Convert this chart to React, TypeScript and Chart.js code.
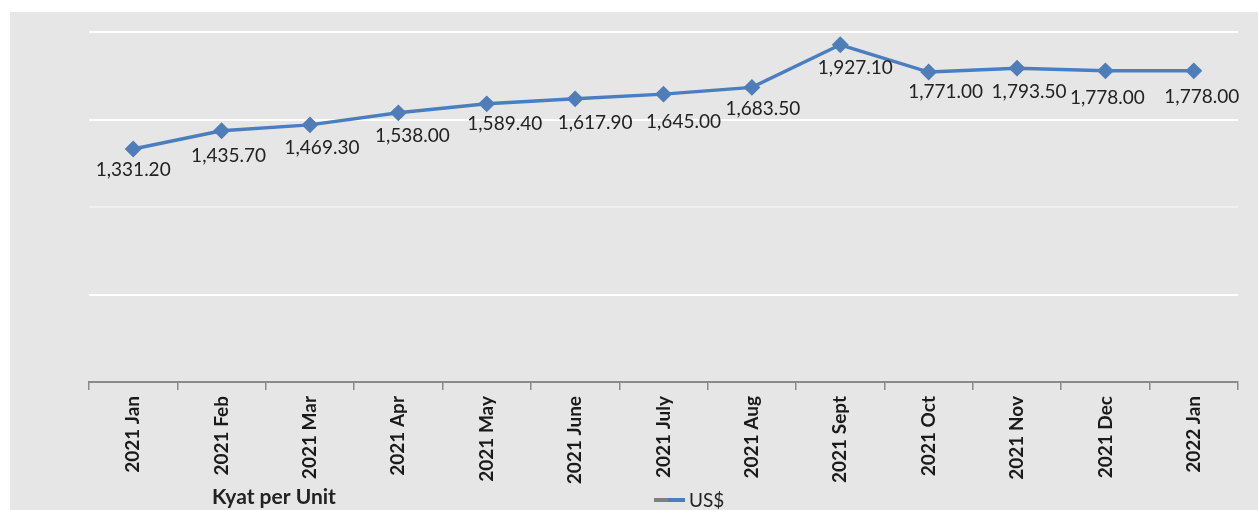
import React, { useEffect, useRef } from "react";
import { Chart, registerables } from "chart.js";

Chart.register(...registerables);

const categories = [
  "2021 Jan", "2021 Feb", "2021 Mar", "2021 Apr", "2021 May", "2021 June",
  "2021 July", "2021 Aug", "2021 Sept", "2021 Oct", "2021 Nov", "2021 Dec", "2022 Jan",
];
const usdValues = [
  1331.2, 1435.7, 1469.3, 1538.0, 1589.4, 1617.9, 1645.0, 1683.5, 1927.1, 1771.0, 1793.5, 1778.0, 1778.0,
];
const seriesName = "US$";
const axisNote = "Kyat per Unit";
const yMin = 0;
const yMax = 2000;
const yStep = 500;

// label offsets (style only)
const labelDx = [0, 7, 12, 14, 18, 20, 20, 11, 15, 17, 12, 2, 8];
const labelDy = [21, 25, 23, 23, 20, 24, 28, 21, 23, 20, 24, 27, 26];

const fmt = (v: number) =>
  v.toLocaleString("en-US", { minimumFractionDigits: 2, maximumFractionDigits: 2 });

const BLUE = "#4a7ebf";

const labelPlugin = {
  id: "valueLabels",
  afterDatasetsDraw(chart: any) {
    const { ctx } = chart;
    const meta = chart.getDatasetMeta(0);
    ctx.save();
    ctx.font = "19px Lato";
    ctx.fillStyle = "#222222";
    ctx.textAlign = "center";
    ctx.textBaseline = "middle";
    meta.data.forEach((pt: any, i: number) => {
      ctx.fillText(fmt(usdValues[i]), pt.x + labelDx[i], pt.y + labelDy[i]);
    });
    ctx.restore();
  },
  afterDraw(chart: any) {
    const { ctx } = chart;
    ctx.save();
    // axis note
    ctx.font = "bold 21px Lato";
    ctx.fillStyle = "#222222";
    ctx.textAlign = "center";
    ctx.textBaseline = "middle";
    ctx.fillText(axisNote, 264, 485);
    // legend
    const ly = 488;
    ctx.lineWidth = 4;
    ctx.strokeStyle = "#808080";
    ctx.beginPath();
    ctx.moveTo(644, ly);
    ctx.lineTo(660, ly);
    ctx.stroke();
    ctx.strokeStyle = BLUE;
    ctx.beginPath();
    ctx.moveTo(658, ly);
    ctx.lineTo(675, ly);
    ctx.stroke();
    ctx.font = "19px Lato";
    ctx.textAlign = "left";
    ctx.fillText(seriesName, 679, ly + 1);
    ctx.restore();
  },
};

export default function App() {
  const ref = useRef<HTMLCanvasElement | null>(null);
  useEffect(() => {
    if (!ref.current) return;
    const chart = new Chart(ref.current, {
      type: "line",
      data: {
        labels: categories,
        datasets: [
          {
            label: seriesName,
            data: usdValues,
            borderColor: BLUE,
            backgroundColor: BLUE,
            borderWidth: 3.5,
            pointStyle: "rectRot",
            pointRadius: 6,
            pointBackgroundColor: "#4f7db8",
            pointBorderColor: "#4f7db8",
            tension: 0,
          },
        ],
      },
      plugins: [labelPlugin],
      options: {
        responsive: false,
        animation: false,
        layout: { padding: { top: 20, right: 20, left: 0, bottom: 0 } },
        plugins: {
          legend: { display: false },
          tooltip: { enabled: false },
          title: { display: false },
        },
        scales: {
          x: {
            offset: true,
            grid: {
              offset: true,
              drawOnChartArea: false,
              drawTicks: true,
              tickLength: 8,
              color: "#8a8a8a",
              lineWidth: 1.5,
            },
            border: { display: true, color: "#8a8a8a", width: 2 },
            ticks: {
              maxRotation: 90,
              minRotation: 90,
              autoSkip: false,
              padding: 6,
              color: "#1a1a1a",
              font: { family: "Lato", size: 19, weight: "bold" },
            },
            afterFit: (s: any) => {
              s.height = 128;
            },
          },
          y: {
            min: yMin,
            max: yMax,
            ticks: { display: false, stepSize: yStep },
            border: { display: false },
            grid: {
              drawTicks: false,
              lineWidth: 2,
              color: (c: any) =>
                c.tick && c.tick.value === 0
                  ? "rgba(0,0,0,0)"
                  : c.tick && c.tick.value === 1000
                  ? "rgba(255,255,255,0.4)"
                  : "#ffffff",
            },
            afterFit: (s: any) => {
              s.width = 79;
            },
          },
        },
      },
    });
    return () => chart.destroy();
  }, []);

  return (
    <div
      style={{
        position: "absolute",
        left: 0,
        top: 0,
        width: 1258,
        height: 510,
        background: "#ffffff",
        overflow: "hidden",
      }}
    >
      <div
        style={{
          position: "absolute",
          left: 10,
          top: 12,
          width: 1248,
          height: 498,
          background: "#e6e6e6",
        }}
      >
        <canvas ref={ref} width={1248} height={498} style={{ display: "block" }} />
      </div>
    </div>
  );
}
